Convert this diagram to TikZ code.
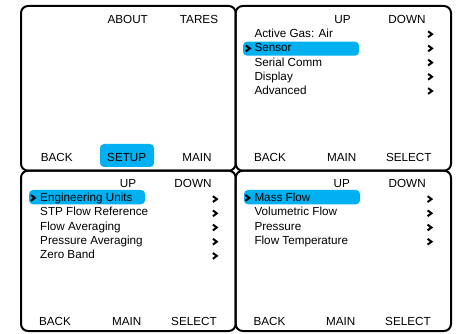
\documentclass[tikz,border=0pt]{standalone}
\usepackage{fontspec}
\setmainfont{Liberation Sans}
\usetikzlibrary{positioning}
\definecolor{selblue}{RGB}{0,176,240}

\begin{document}
\begin{tikzpicture}[x=1pt, y=-1pt,
    every node/.style={font=\fontsize{11.7}{14}\selectfont, inner sep=0pt},
    panel/.style={draw, line width=2pt, rounded corners=7pt},
    selbox/.style={fill=selblue, rounded corners=4pt},
    chevron/.pic={\draw[line width=2pt, line join=miter] (-2.1,-2.9) -- (1.8,0) -- (-2.1,2.9);}]
    \useasboundingbox (0,0) rectangle (458,334);
    % the four screens
    \draw[panel] (21,6) rectangle (235.7,170.7);
    \draw[panel] (235.7,6) rectangle (451,170.7);
    \draw[panel] (21,170.7) rectangle (235.7,331);
    \draw[panel] (235.7,170.7) rectangle (451,331);
    % highlights
    \fill[selbox] (100,144) rectangle (154,167);
    \fill[selbox] (243,41.7) rectangle (359,55.7);
    \fill[selbox] (29,190) rectangle (145,204.3);
    \fill[selbox] (244,190) rectangle (360,204.3);
    % top left
    \foreach \x/\n/\t in {127.7/about/ABOUT, 199/tares/TARES}
        \node[anchor=base] (\n) at (\x,23.3) {\t};
    \foreach \x/\n/\t in {56.7/tlback/BACK, 126.7/setup/SETUP, 197/tlmain/MAIN}
        \node[anchor=base] (\n) at (\x,162) {\t};
    % top right
    \foreach \x/\n/\t in {342.5/trup/UP, 407/trdown/DOWN}
        \node[anchor=base] (\n) at (\x,23.3) {\t};
    \foreach \x/\n/\t in {270/trback/BACK, 341.7/trmain/MAIN, 408.8/trselect/SELECT}
        \node[anchor=base] (\n) at (\x,162) {\t};
    \foreach \t [count=\i from 0] in {Active Gas: Air, Sensor, Serial Comm, Display, Advanced} {
        \node[anchor=base west] (tritem\i) at (254.3,37.8+14.2*\i) {\t};
        \pic (trchev\i) at (430.2,34.2+14.2*\i) {chevron};
    }
    \pic (trsel) at (248,48.4) {chevron};
    % bottom left
    \foreach \x/\n/\t in {128/blup/UP, 193/bldown/DOWN}
        \node[anchor=base] (\n) at (\x,187.7) {\t};
    \foreach \x/\n/\t in {55/blback/BACK, 126.7/blmain/MAIN, 194/blselect/SELECT}
        \node[anchor=base] (\n) at (\x,325.7) {\t};
    \foreach \t [count=\i from 0] in {Engineering Units, STP Flow Reference, Flow Averaging, Pressure Averaging, Zero Band} {
        \node[anchor=base west] (blitem\i) at (40,201.7+14.2*\i) {\t};
        \pic (blchev\i) at (215,199.1+14.2*\i) {chevron};
    }
    \pic (blsel) at (33,197.9) {chevron};
    % bottom right
    \foreach \x/\n/\t in {341.7/brup/UP, 407.2/brdown/DOWN}
        \node[anchor=base] (\n) at (\x,187.7) {\t};
    \foreach \x/\n/\t in {269.5/brback/BACK, 340.8/brmain/MAIN, 408/brselect/SELECT}
        \node[anchor=base] (\n) at (\x,325.7) {\t};
    \foreach \t [count=\i from 0] in {Mass Flow, Volumetric Flow, Pressure, Flow Temperature} {
        \node[anchor=base west] (britem\i) at (254.3,201.7+14.2*\i) {\t};
        \pic (brchev\i) at (429.7,199.1+14.2*\i) {chevron};
    }
    \pic (brsel) at (247.5,197.9) {chevron};
\end{tikzpicture}
\end{document}
